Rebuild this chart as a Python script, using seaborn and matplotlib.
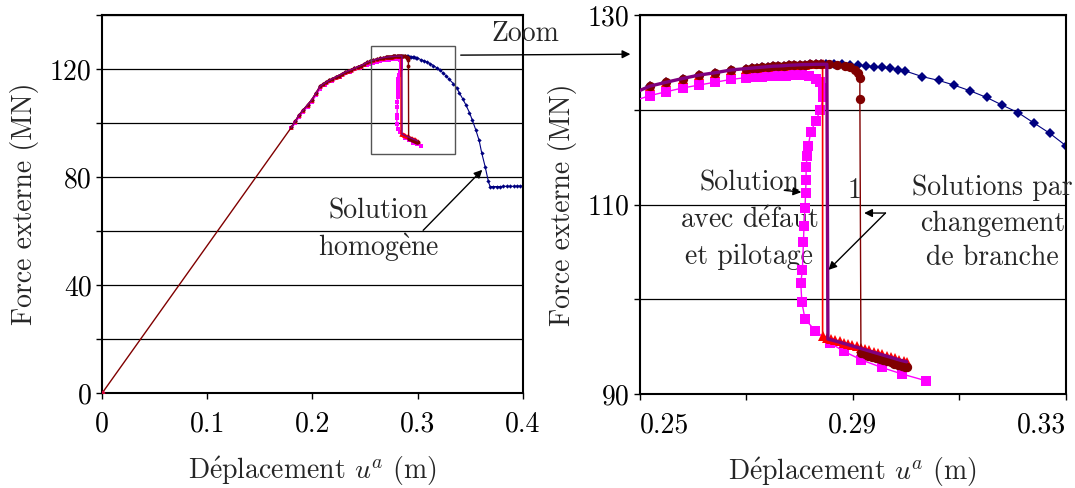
import numpy as np
import pandas as pd
import matplotlib
matplotlib.use("Agg")
import matplotlib.pyplot as plt
import seaborn as sns

# --- donnees (u en m, F en MN) ---
u_elas = [0.0, 0.180]
f_elas = [0.0, 98.4]

# branche commune d'ecrouissage
u_hard = [0.1800, 0.1836, 0.1876, 0.1914, 0.1956, 0.1994, 0.2035, 0.2073, 0.2100,
          0.2130, 0.2160, 0.2190, 0.2220, 0.2250, 0.2280, 0.2310, 0.2340, 0.2370,
          0.2400, 0.2430, 0.2460, 0.2490, 0.2519, 0.2549, 0.2580, 0.2610, 0.2640,
          0.2671]
f_hard = [98.4, 100.6, 103.1, 104.9, 106.8, 108.6, 111.1, 113.6, 114.4,
          115.1, 115.8, 116.4, 117.0, 117.6, 118.2, 118.8, 119.3, 119.8,
          120.3, 120.8, 121.3, 121.8, 122.5, 122.9, 123.3, 123.65, 123.9,
          124.2]

# palier dense avant la localisation
u_top = [0.2700, 0.2710, 0.2720, 0.2730, 0.2740, 0.2750, 0.2760, 0.2770, 0.2780,
         0.2790, 0.2800, 0.2810, 0.2820, 0.2830, 0.2840]
f_top = [124.35, 124.4, 124.45, 124.5, 124.55, 124.6, 124.62, 124.65, 124.7,
         124.72, 124.75, 124.77, 124.78, 124.8, 124.8]

# solution homogene (bleu)
u_homo = [0.2850, 0.2865, 0.2880, 0.2895, 0.2910, 0.2925, 0.2940, 0.2955, 0.2970,
          0.2985, 0.2998, 0.3030, 0.3061, 0.3090, 0.3120, 0.3151, 0.3180, 0.3210,
          0.3240, 0.3270, 0.3300, 0.3340, 0.3373, 0.3398, 0.3430, 0.3458, 0.3493,
          0.3521, 0.3553, 0.3585, 0.3610, 0.3642, 0.3673, 0.3689, 0.3720, 0.3752,
          0.3784, 0.3816, 0.3848, 0.3880, 0.3912, 0.3944, 0.3976, 0.4000]
f_homo = [124.85, 124.83, 124.8, 124.76, 124.7, 124.63, 124.55, 124.47, 124.38,
          124.25, 124.1, 123.5, 123.1, 122.6, 122.0, 121.3, 120.5, 119.7,
          118.6, 117.5, 116.2, 114.6, 113.0, 111.1, 108.9, 106.8, 103.9,
          101.0, 97.5, 93.6, 88.9, 83.9, 78.4, 76.5, 76.5, 76.5,
          76.5, 76.6, 76.6, 76.6, 76.6, 76.7, 76.7, 76.7]

# solution avec defaut et pilotage (magenta)
u_pil = [0.1800, 0.1836, 0.1876, 0.1914, 0.1956, 0.1994, 0.2035, 0.2073, 0.2120,
         0.2184, 0.2263, 0.2358, 0.2453, 0.2519, 0.2549, 0.2580, 0.2610, 0.2640,
         0.2671, 0.2700, 0.2715, 0.2730, 0.2745, 0.2760, 0.2775, 0.2790, 0.2805,
         0.2818, 0.2830, 0.2838, 0.2843, 0.2844, 0.2839, 0.2830, 0.2821, 0.2816,
         0.2814, 0.2812, 0.2812, 0.2811, 0.2810, 0.2808, 0.2807, 0.2805, 0.2802,
         0.2804, 0.2810, 0.2829, 0.2857, 0.2883, 0.2916, 0.2954, 0.2993, 0.3037]
f_pil = [98.0, 100.0, 102.4, 104.2, 106.1, 107.9, 110.3, 112.7, 114.1,
         115.4, 117.0, 118.8, 120.3, 121.5, 121.9, 122.3, 122.6, 122.9,
         123.2, 123.4, 123.45, 123.5, 123.55, 123.6, 123.6, 123.62, 123.62,
         123.6, 123.3, 122.9, 122.3, 121.4, 120.0, 118.8, 117.7, 116.2,
         115.1, 114.0, 112.6, 111.2, 109.6, 107.7, 106.0, 103.1, 101.7,
         99.7, 97.9, 96.7, 95.4, 94.5, 93.6, 92.8, 92.1, 91.4]

# solutions par changement de branche
u_red_drop = [0.2843, 0.2843, 0.2851, 0.2859, 0.2867, 0.2875, 0.2883, 0.2891, 0.2899,
              0.2907, 0.2915, 0.2923, 0.2931, 0.2939, 0.2947, 0.2955, 0.2963, 0.2971,
              0.2979, 0.2987, 0.2995, 0.3001]
f_red_drop = [124.8, 96.1, 95.95, 95.8, 95.68, 95.55, 95.42, 95.29, 95.16,
              95.03, 94.9, 94.76, 94.62, 94.48, 94.34, 94.2, 94.06, 93.92,
              93.78, 93.64, 93.5, 93.4]

u_pur_drop = [0.2851, 0.2853, 0.2870, 0.2885, 0.2900, 0.2915, 0.2930, 0.2945, 0.2960,
              0.2975, 0.2990, 0.3001]
f_pur_drop = [124.8, 95.8, 95.55, 95.3, 95.05, 94.8, 94.55, 94.3, 94.05,
              93.8, 93.55, 93.4]

u_mar_drop = [0.2855, 0.2870, 0.2885, 0.2895, 0.2903, 0.2909, 0.2913, 0.2913, 0.2915,
              0.2922, 0.2929, 0.2936, 0.2943, 0.2950, 0.2957, 0.2964, 0.2971, 0.2978,
              0.2985, 0.2992, 0.2998, 0.3001]
f_mar_drop = [124.8, 124.75, 124.65, 124.5, 124.25, 123.9, 123.4, 121.1, 94.3,
              94.18, 94.06, 93.94, 93.82, 93.7, 93.58, 93.46, 93.34, 93.22,
              93.1, 92.98, 92.9, 92.85]

sns.set_theme(style="white")
plt.rcParams["font.family"] = ["cmr10", "DejaVu Serif"]
plt.rcParams["mathtext.fontset"] = "cm"
plt.rcParams["axes.unicode_minus"] = False
plt.rcParams["axes.formatter.use_mathtext"] = True

NAVY = "#000080"
MAG = "#FF00FF"
RED = "#FF0000"
MAROON = "#800000"
PURPLE = "#800080"
FS = 20

fig = plt.figure(figsize=(10.75, 4.88), dpi=100)
ax1 = fig.add_axes([0.0949, 0.1941, 0.3914, 0.7752])
ax2 = fig.add_axes([0.5953, 0.1926, 0.3963, 0.7766])


def courbe(ax, u, f, color, marker, ms, lw=1.0, z=2):
    sns.lineplot(x=u, y=f, ax=ax, color=color, marker=marker, markersize=ms,
                 markeredgewidth=0, linewidth=lw, estimator=None, sort=False,
                 zorder=z, legend=False)


def tracer(ax, s):
    # s : facteur de taille des marqueurs
    courbe(ax, u_hard + u_top + u_homo, f_hard + f_top + f_homo, NAVY, "D", 2.2 * s, 0.8, 2)
    courbe(ax, u_pil, f_pil, MAG, "s", 3.0 * s, 1.0, 3)
    courbe(ax, u_hard + u_top + u_red_drop, f_hard + f_top + f_red_drop, RED, "^", 3.2 * s, 1.2, 4)
    courbe(ax, u_hard + u_top + u_mar_drop, f_hard + f_top + f_mar_drop, MAROON, "o", 2.8 * s, 1.0, 5)
    courbe(ax, u_hard + u_top + u_pur_drop, f_hard + f_top + f_pur_drop, PURPLE, None, 0, 1.0 * s, 6)


E_AIGU = r"$\acute{\rm e}$"
E_GRAVE = r"$\grave{\rm e}$"

# --- panneau de gauche ---
courbe(ax1, u_elas, f_elas, MAROON, None, 0, 1.0, 5)
ax1.plot([0], [0], "o", color="#CC0033", ms=3, zorder=6)
tracer(ax1, 1.0)
ax1.set_xlim(0, 0.4)
ax1.set_ylim(0, 140)
ax1.set_xticks([0, 0.1, 0.2, 0.3, 0.4])
ax1.set_xticklabels(["0", "0.1", "0.2", "0.3", "0.4"])
ax1.set_yticks([0, 20, 40, 60, 80, 100, 120, 140])
ax1.set_yticklabels(["0", "", "40", "", "80", "", "120", ""])
ax1.add_patch(plt.Rectangle((0.2558, 88.6), 0.0798, 39.8, fill=False,
                            edgecolor="#555555", linewidth=1.0, zorder=7))
ax1.text(0.2629, 67.5, "Solution", ha="center", va="center", fontsize=FS)
ax1.text(0.2629, 53.9, "homog" + E_GRAVE + "ne", ha="center", va="center", fontsize=FS)
fleche = dict(arrowstyle="-|>", color="black", lw=1.0, mutation_scale=12,
              shrinkA=0, shrinkB=0)
ax1.annotate("", xy=(0.3615, 82.7), xytext=(0.3053, 60.3), arrowprops=fleche, zorder=8)

# --- panneau de droite (zoom) ---
tracer(ax2, 2.4)
ax2.set_xlim(0.25, 0.33)
ax2.set_ylim(90, 130)
ax2.set_xticks([0.25, 0.27, 0.29, 0.31, 0.33])
ax2.set_xticklabels(["0.25", "", "0.29", "", "0.33"])
ax2.set_yticks([90, 100, 110, 120, 130])
ax2.set_yticklabels(["90", "", "110", "", "130"])
for y, t in [(112.2, "Solution"), (108.3, "avec d" + E_AIGU + "faut"), (104.5, "et pilotage")]:
    ax2.text(0.2705, y, t, ha="center", va="center", fontsize=FS, zorder=1)
ax2.text(0.2903, 111.4, "1", ha="center", va="center", fontsize=FS)
for y, t in [(111.8, "Solutions par"), (108.0, "changement"), (104.4, "de branche")]:
    ax2.text(0.3162, y, t, ha="center", va="center", fontsize=FS, clip_on=False)
ax2.annotate("", xy=(0.2803, 111.3), xytext=(0.2771, 111.5), arrowprops=fleche, zorder=8)
ax2.annotate("", xy=(0.2921, 109.1), xytext=(0.2961, 109.1), arrowprops=fleche, zorder=8)
ax2.annotate("", xy=(0.2854, 103.1), xytext=(0.2961, 109.1), arrowprops=fleche, zorder=8)

for ax in (ax1, ax2):
    ax.grid(axis="y", color="black", linewidth=0.9)
    ax.grid(axis="x", visible=False)
    for sp in ax.spines.values():
        sp.set_color("black")
        sp.set_linewidth(1.5)
    ax.tick_params(direction="out", length=4, width=1, colors="black",
                   labelsize=FS, bottom=True, left=True)
    ax.tick_params(axis="x", pad=9)
    ax.set_xlabel("D" + E_AIGU + "placement $u^a$ (m)", fontsize=FS, labelpad=12)
    ax.set_ylabel("Force externe (MN)", fontsize=FS, labelpad=8)

# etiquettes du zoom calees dans la largeur du cadre
labs = ax2.get_xticklabels()
labs[0].set_ha("left")
labs[-1].set_ha("right")

# fleche "Zoom" entre les deux panneaux
fig.text(0.4884, 0.930, "Zoom", ha="center", va="center", fontsize=FS)
fig.patches.append(matplotlib.patches.FancyArrowPatch(
    (0.426, 0.887), (0.589, 0.889), transform=fig.transFigure,
    arrowstyle="-|>", color="black", lw=1.0, mutation_scale=12))

fig.savefig("out.png", dpi=100)
